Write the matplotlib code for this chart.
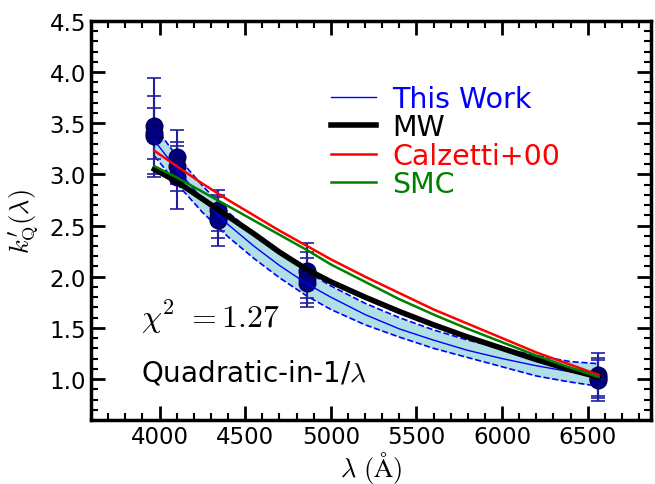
import numpy as np
import matplotlib
matplotlib.use('Agg')
import matplotlib.pyplot as plt
from matplotlib.ticker import MultipleLocator

plt.rcParams['mathtext.fontset'] = 'cm'
plt.rcParams['font.family'] = 'DejaVu Sans'

# measured points (Balmer lines + Ca H)
lam_pts = [3970, 3970, 3970, 4102, 4102, 4102, 4340, 4340, 4340,
           4861, 4861, 4861, 6563, 6563, 6563]
k_pts = [3.47, 3.37, 3.40, 3.17, 3.08, 2.97, 2.65, 2.58, 2.55,
         2.06, 1.99, 1.94, 1.04, 1.01, 0.99]
k_err = [0.47, 0.40, 0.25, 0.26, 0.24, 0.31, 0.20, 0.20, 0.25,
         0.27, 0.25, 0.24, 0.21, 0.20, 0.20]

# curves
lam = [3970, 4100, 4250, 4400, 4550, 4700, 4861, 5000, 5200,
       5400, 5600, 5800, 6000, 6200, 6400, 6563]
k_fit = [3.33, 3.05, 2.76, 2.51, 2.30, 2.11, 1.93, 1.80, 1.63,
         1.49, 1.38, 1.28, 1.20, 1.13, 1.07, 1.03]
k_fit_hi = [3.47, 3.18, 2.89, 2.63, 2.42, 2.23, 2.05, 1.91, 1.74,
            1.60, 1.48, 1.38, 1.30, 1.23, 1.17, 1.15]
k_fit_lo = [3.18, 2.91, 2.63, 2.39, 2.18, 1.99, 1.81, 1.68, 1.53,
            1.41, 1.30, 1.21, 1.12, 1.03, 0.97, 0.93]
k_mw = [3.05, 2.93, 2.76, 2.59, 2.42, 2.24, 2.07, 1.95, 1.80,
        1.66, 1.53, 1.41, 1.30, 1.19, 1.09, 1.02]
k_calz = [3.23, 3.08, 2.91, 2.75, 2.60, 2.45, 2.30, 2.17, 2.00,
          1.84, 1.68, 1.54, 1.40, 1.26, 1.14, 1.04]
k_smc = [3.08, 2.97, 2.83, 2.69, 2.55, 2.41, 2.26, 2.12, 1.95,
         1.78, 1.63, 1.49, 1.36, 1.23, 1.11, 1.02]

fig = plt.figure(figsize=(6.55, 4.85), dpi=100)
ax = fig.add_axes([0.139, 0.132, 0.855, 0.823])

ax.fill_between(lam, k_fit_lo, k_fit_hi, color='#b0e0e6', lw=0, zorder=1)
ax.plot(lam, k_fit_hi, '--', color='blue', lw=1.2, zorder=1.5)
ax.plot(lam, k_fit_lo, '--', color='blue', lw=1.2, zorder=1.5)

ax.errorbar(lam_pts, k_pts, yerr=k_err, fmt='o', color='navy', ecolor='#2020a0',
            ms=12, mec='#000050', elinewidth=1.5, capsize=5, capthick=1.2, zorder=2)

ax.plot(lam, k_fit, '-', color='blue', lw=1.0, label='This Work', zorder=3)
ax.plot(lam, k_mw, '-', color='black', lw=4, label='MW', zorder=3)
ax.plot(lam, k_calz, '-', color='red', lw=1.8, label='Calzetti+00', zorder=3)
ax.plot(lam, k_smc, '-', color='green', lw=1.8, label='SMC', zorder=3)

leg = ax.legend(loc='upper left', bbox_to_anchor=(0.428, 0.84), frameon=False,
                fontsize=20.5, handlelength=1.6, handletextpad=0.55,
                labelspacing=0.02, borderpad=0, borderaxespad=0)
for txt, c in zip(leg.get_texts(), ['blue', 'black', 'red', 'green']):
    txt.set_color(c)

ax.text(0.09, 0.26, r'$\chi^2\ =1.27$', transform=ax.transAxes,
        fontsize=23, va='center', ha='left')
ax.text(0.09, 0.12, r'Quadratic-in-1/$\lambda$', transform=ax.transAxes,
        fontsize=20, va='center', ha='left')

ax.set_xlim(3600, 6870)
ax.set_ylim(0.6, 4.5)
ax.xaxis.set_major_locator(MultipleLocator(500))
ax.xaxis.set_minor_locator(MultipleLocator(100))
ax.yaxis.set_major_locator(MultipleLocator(0.5))
ax.yaxis.set_minor_locator(MultipleLocator(0.1))
ax.set_yticks([1.0, 1.5, 2.0, 2.5, 3.0, 3.5, 4.0, 4.5])
ax.tick_params(which='both', direction='in', top=True, right=True, labelsize=16.5)
ax.tick_params(which='major', length=10, width=2)
ax.tick_params(which='minor', length=5, width=1.5)
for sp in ax.spines.values():
    sp.set_linewidth(2.5)

ax.set_xlabel(r'$\lambda\ (\mathrm{\AA})$', fontsize=19, labelpad=1)
ax.set_ylabel(r"$k^{\prime}_{\rm Q}(\lambda)$", fontsize=19, labelpad=6)

plt.savefig('out.png', dpi=100)
